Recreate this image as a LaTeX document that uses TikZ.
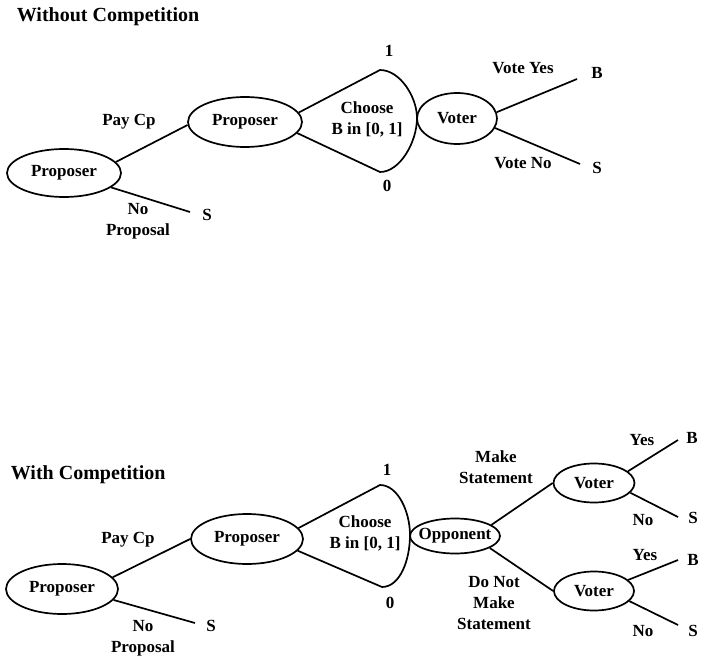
\documentclass[tikz,border=0pt]{standalone}
\usepackage{fontspec}
\setmainfont{Liberation Serif}
\usetikzlibrary{shapes.geometric}
\begin{document}
\begin{tikzpicture}[x=1pt,y=-1pt,line width=1.7pt,
  lab/.style={font=\fontsize{17}{21}\selectfont\bfseries,inner sep=0pt,align=center},
  ttl/.style={font=\fontsize{20}{24}\selectfont\bfseries,inner sep=0pt,anchor=base west},
  ell/.style={draw,ellipse,inner sep=0pt}]
\useasboundingbox (0,0) rectangle (702,661);

% ---------------- Without Competition ----------------
\node[ttl] (t1) at (16,22) {Without Competition};
\node[ell,minimum width=114pt,minimum height=48pt,label={[lab]center:Proposer}] (ap1) at (64,173) {};
\node[ell,minimum width=114pt,minimum height=50pt,label={[lab]center:Proposer}] (ap2) at (245,122) {};
\node[ell,minimum width=80pt,minimum height=51pt,label={[lab]center:Voter}] (av) at (457,118.5) {};
\coordinate (as) at (190,212);
\coordinate (atop) at (380,70);
\coordinate (abot) at (380,172);
\coordinate (ayes) at (577,79);
\coordinate (ano) at (580,164);

\draw (ap1.12) -- (ap2.183);
\draw (ap1.-17) -- (as);
\draw (ap2.10) -- (atop) .. controls (400,70) and (417,97) .. (417,118)
      .. controls (417,142) and (400,172) .. (abot) -- (ap2.-12);
\draw (av.9) -- (ayes);
\draw (av.-14) -- (ano);

\node[lab] (aPay) at (129,122) {Pay Cp};
\node[lab] (aNoP) at (138,221.5) {No\\Proposal};
\node[lab] (aS) at (207,215) {S};
\node[lab] (a1) at (389,51) {1};
\node[lab] (a0) at (387,186) {0};
\node[lab] (aCh) at (367,119.5) {Choose\\B in [0, 1]};
\node[lab] (aVY) at (523,68) {Vote Yes};
\node[lab] (aVN) at (523,163) {Vote No};
\node[lab] (aB) at (597,73) {B};
\node[lab] (aS2) at (597,168) {S};

% ---------------- With Competition ----------------
\node[ttl] (t2) at (10,479) {With Competition};
\node[ell,minimum width=112pt,minimum height=50pt,label={[lab]center:Proposer}] (bp1) at (62,589) {};
\node[ell,minimum width=112pt,minimum height=50pt,label={[lab]center:Proposer}] (bp2) at (247,539) {};
\node[ell,minimum width=90pt,minimum height=35pt,label={[lab]center:Opponent}] (bo) at (455,536) {};
\node[ell,minimum width=81pt,minimum height=39pt,label={[lab]center:Voter}] (bv1) at (594,483) {};
\node[ell,minimum width=80pt,minimum height=39pt,label={[lab]center:Voter}] (bv2) at (594,591) {};
\coordinate (bs) at (195,623);
\coordinate (btop) at (380,485);
\coordinate (bbot) at (382,587);
\coordinate (by1) at (678,440);
\coordinate (bn1) at (678,517);
\coordinate (by2) at (678,560);
\coordinate (bn2) at (678,625);

\draw (bp1.13) -- (bp2.180);
\draw (bp1.-12) -- (bs);
\draw (bp2.12) -- (btop) .. controls (398,485) and (410,512) .. (410,535)
      .. controls (410,560) and (400,587) .. (bbot) -- (bp2.-13);
\draw (bo.17) -- (bv1.180);
\draw (bo.-19) -- (bv2.180);
\draw (bv1.19) -- (by1);
\draw (bv1.-15) -- (bn1);
\draw (bv2.18) -- (by2);
\draw (bv2.-16) -- (bn2);

\node[lab] (bPay) at (128,540) {Pay Cp};
\node[lab] (bNoP) at (143,638.5) {No\\Proposal};
\node[lab] (bS) at (211,626) {S};
\node[lab] (b1) at (387,470) {1};
\node[lab] (b0) at (390,603) {0};
\node[lab] (bCh) at (365,533.5) {Choose\\B in [0, 1]};
\node[lab] (bMS) at (496,467) {Make\\Statement};
\node[lab] (bDN) at (494,603.5) {Do Not\\Make\\Statement};
\node[lab] (bY1) at (642,440) {Yes};
\node[lab] (bB1) at (692,438) {B};
\node[lab] (bN1) at (643,520) {No};
\node[lab] (bS1) at (693,518) {S};
\node[lab] (bY2) at (645,555) {Yes};
\node[lab] (bB2) at (693,560) {B};
\node[lab] (bN2) at (643,631) {No};
\node[lab] (bS2) at (693,631) {S};
\end{tikzpicture}
\end{document}
